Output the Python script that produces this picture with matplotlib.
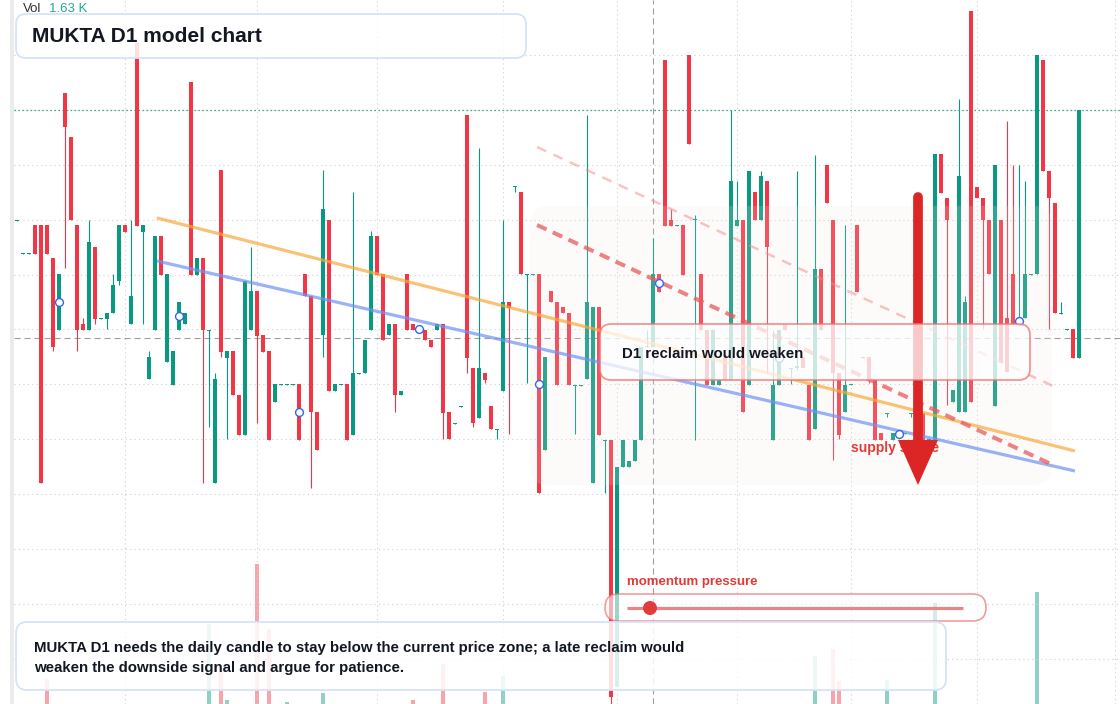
import matplotlib
matplotlib.use("Agg")
import matplotlib.pyplot as plt
import numpy as np
from matplotlib.patches import FancyBboxPatch, Rectangle, Polygon, Circle
from matplotlib.transforms import Affine2D

plt.rcParams['font.family'] = ['Liberation Sans', 'DejaVu Sans']

# ---------------- data (daily candles, price units) ----------------
opens = [57.9, 54.6, 54.6, 57.5, 57.5, 57.5, 54.2, 47.0, 70.7, 66.3,
         57.5, 47.6, 47.0, 55.3, 48.1, 48.1, 48.7, 51.9, 57.5, 47.6,
         75.7, 56.8, 42.1, 47.0, 56.4, 43.8, 41.5, 47.0, 47.6, 71.8,
         52.5, 54.2, 46.9, 31.7, 63.0, 44.2, 44.9, 40.5, 36.5, 47.0,
         50.9, 46.5, 44.9, 39.8, 41.5, 41.5, 41.5, 41.6, 52.6, 50.4,
         38.8, 46.5, 58.0, 40.9, 41.5, 41.6, 36.5, 42.6, 42.7, 47.0,
         56.4, 52.6, 46.5, 47.6, 40.5, 52.6, 47.6, 47.3, 47.0, 46.0,
         47.0, 47.6, 38.8, 37.6, 39.3, 68.5, 43.2, 38.2, 42.7, 39.4,
         37.0, 40.9, 49.8, 61.3, 60.8, 52.5, 52.5, 52.6, 35.0, 50.9,
         49.8, 49.3, 48.7, 41.4, 41.4, 42.1, 31.7, 49.3, 35.9, 36.0,
         11.3, 33.3, 33.3, 33.9, 36.0, 45.3, 45.3, 52.6, 74.0, 58.0,
         57.4, 57.5, 74.5, 58.0, 52.6, 47.0, 41.5, 41.5, 44.5, 42.0,
         57.4, 58.0, 41.5, 60.8, 58.0, 61.9, 36.0, 41.5, 47.6, 43.1,
         43.2, 44.3, 41.5, 37.1, 53.1, 63.5, 58.0, 42.7, 38.8, 41.5,
         57.5, 44.2, 44.3, 42.0, 36.7, 38.6, 36.0, 36.4, 36.6, 38.6,
         37.5, 38.7, 36.0, 36.0, 64.6, 60.2, 39.8, 38.8, 38.8, 78.9,
         61.3, 60.2, 58.0, 39.4, 58.0, 48.2, 52.6, 47.6, 48.2, 52.5,
         52.6, 74.0, 62.9, 59.7, 48.6, 47.0, 47.1, 44.2]
highs = [58.0, 54.7, 54.7, 57.5, 57.5, 57.5, 54.2, 52.6, 70.7, 66.3,
         57.5, 48.2, 58.0, 55.3, 48.2, 48.7, 52.6, 57.5, 57.5, 58.0,
         75.7, 57.5, 44.9, 56.4, 56.4, 52.6, 44.9, 49.8, 48.7, 71.8,
         54.2, 54.2, 47.0, 42.7, 63.0, 44.9, 44.9, 40.5, 51.9, 55.3,
         50.9, 46.5, 44.9, 41.6, 41.6, 41.6, 41.6, 41.6, 52.6, 50.4,
         38.8, 63.0, 58.0, 41.6, 41.6, 41.6, 60.8, 42.7, 46.0, 56.9,
         56.4, 52.6, 47.6, 47.6, 40.9, 52.6, 47.6, 47.3, 47.0, 46.0,
         47.6, 47.6, 38.8, 37.7, 39.4, 68.5, 43.2, 65.2, 42.7, 39.4,
         37.1, 58.0, 49.8, 61.4, 60.8, 52.6, 52.6, 52.6, 44.3, 50.9,
         49.8, 49.3, 48.7, 41.5, 41.5, 68.5, 49.3, 49.3, 36.0, 36.0,
         33.3, 36.0, 33.9, 36.0, 45.3, 47.0, 56.2, 52.6, 74.0, 59.1,
         57.5, 57.5, 74.5, 58.5, 52.6, 47.0, 47.0, 42.0, 44.5, 69.0,
         61.9, 58.0, 62.9, 60.8, 62.9, 61.9, 47.0, 47.0, 47.6, 43.2,
         62.9, 44.3, 41.5, 64.5, 53.1, 63.5, 58.0, 42.7, 57.5, 41.6,
         57.5, 44.3, 44.3, 42.0, 36.7, 38.7, 36.7, 36.8, 36.7, 38.7,
         37.5, 38.7, 36.1, 64.6, 64.6, 60.2, 41.0, 70.1, 50.4, 78.9,
         61.3, 60.2, 58.0, 63.5, 58.0, 67.9, 63.5, 63.5, 61.9, 52.6,
         74.5, 74.0, 62.9, 59.7, 49.8, 47.1, 47.1, 69.0]
lows = [57.9, 54.6, 54.6, 54.6, 31.7, 54.6, 44.9, 47.0, 53.2, 58.0,
        44.9, 47.0, 47.0, 47.6, 48.1, 47.1, 48.7, 51.5, 56.8, 47.6,
        57.4, 47.6, 42.1, 47.0, 52.5, 43.8, 41.5, 47.0, 47.6, 52.5,
        52.5, 31.7, 37.3, 31.7, 44.3, 36.1, 40.5, 36.5, 36.5, 47.0,
        37.7, 44.8, 36.0, 39.8, 41.5, 41.5, 41.5, 36.0, 50.4, 31.2,
        35.0, 44.3, 40.9, 40.9, 41.5, 36.0, 36.5, 42.6, 42.7, 47.0,
        52.5, 46.0, 46.5, 38.8, 40.5, 47.0, 47.0, 46.9, 46.0, 45.3,
        47.0, 36.1, 36.1, 37.6, 39.3, 42.7, 37.3, 38.2, 41.7, 37.1,
        36.1, 40.9, 36.6, 60.8, 52.6, 41.7, 52.5, 30.7, 35.0, 49.8,
        41.5, 48.7, 41.5, 36.6, 41.4, 42.1, 31.7, 36.5, 30.7, 9.6,
        11.3, 33.3, 33.3, 33.9, 36.0, 45.3, 45.3, 50.8, 57.4, 57.4,
        57.4, 52.5, 65.6, 36.0, 47.0, 41.5, 41.5, 41.5, 42.0, 42.0,
        57.4, 38.8, 41.5, 58.0, 58.0, 42.7, 36.0, 41.5, 47.0, 41.6,
        43.0, 43.2, 36.0, 37.1, 47.0, 59.7, 34.0, 36.1, 38.8, 41.5,
        50.8, 44.2, 41.7, 36.0, 36.0, 38.3, 36.0, 36.4, 36.6, 38.3,
        36.0, 36.0, 36.0, 36.0, 60.7, 39.5, 39.8, 38.8, 38.8, 39.8,
        60.2, 47.1, 52.6, 39.4, 43.7, 42.8, 47.6, 47.6, 48.2, 52.5,
        52.6, 62.9, 47.1, 48.7, 48.6, 47.0, 44.2, 44.2]
closes = [58.0, 54.7, 54.7, 54.6, 31.7, 54.6, 45.3, 52.6, 67.3, 58.0,
          47.0, 47.0, 55.8, 48.1, 48.2, 48.7, 51.5, 57.5, 56.8, 50.4,
          57.4, 57.5, 44.3, 56.4, 52.5, 52.6, 44.9, 49.8, 48.7, 52.5,
          54.2, 47.0, 47.0, 42.1, 44.8, 44.9, 40.5, 36.5, 51.9, 50.9,
          46.4, 44.8, 36.0, 41.6, 41.6, 41.6, 41.6, 36.0, 50.4, 38.8,
          35.0, 59.1, 40.9, 41.6, 41.6, 36.0, 42.7, 42.7, 46.0, 56.4,
          52.5, 46.0, 47.6, 40.5, 40.9, 47.0, 47.0, 46.9, 46.0, 45.3,
          47.6, 38.7, 36.1, 37.7, 39.4, 44.2, 37.7, 43.2, 42.0, 37.1,
          37.1, 49.8, 49.2, 61.4, 52.6, 52.6, 52.6, 30.7, 44.3, 49.8,
          41.5, 48.7, 41.5, 41.5, 41.5, 49.8, 49.3, 36.5, 36.0, 10.3,
          33.3, 36.0, 33.9, 36.0, 45.3, 45.4, 52.6, 50.8, 57.4, 57.4,
          57.5, 52.5, 65.6, 58.1, 47.0, 41.5, 47.0, 42.0, 42.0, 61.9,
          58.0, 38.8, 62.9, 58.0, 62.4, 55.3, 41.5, 47.0, 47.0, 43.2,
          43.4, 43.2, 36.0, 53.1, 47.0, 59.7, 42.7, 36.5, 41.5, 41.6,
          50.8, 44.3, 42.0, 36.0, 36.0, 38.7, 36.7, 36.8, 36.7, 38.7,
          36.0, 36.0, 36.1, 64.6, 60.7, 58.0, 41.0, 62.4, 49.8, 39.8,
          60.2, 58.0, 52.6, 63.5, 43.7, 42.8, 47.6, 48.2, 52.6, 52.6,
          74.5, 62.9, 60.2, 48.7, 48.7, 47.1, 44.2, 69.0]

# volume (thousands) for the bars that rise into view
vol_days = [5, 32, 34, 35, 40, 42, 45, 51, 66, 71, 78, 81, 133, 136, 137, 145, 153, 170, 177]
vol_k = [4.05, 6.8, 4.45, 3.0, 9.8, 6.55, 2.9, 3.35, 3.0, 4.8, 3.4, 4.2, 5.2, 5.55, 3.95, 4.0, 7.85, 8.4, 1.63]

# overlay lines: (start_day, start_price, end_day, end_price)
orange_line = [23.33, 58.2, 176.33, 34.9]
blue_line = [23.33, 53.9, 176.33, 32.9]
red_dash_main = [86.67, 57.5, 172.67, 33.5]
red_dash_upper = [86.67, 65.3, 172.67, 41.4]
cross_day, cross_price = 106, 46.2
month_days = [18, 40, 60, 81, 100, 120, 139, 160, 183]
marker_days = [7, 27, 47, 67, 87, 107, 127, 147, 167]

title = "MUKTA D1 model chart"
note = ("MUKTA D1 needs the daily candle to stay below the current price zone; a late reclaim would\n"
        "weaken the downside signal and argue for patience.")

# ---------------- figure ----------------
W, H = 1120, 704
fig = plt.figure(figsize=(W / 100, H / 100), dpi=100)
fig.patch.set_facecolor('white')
axv = fig.add_axes([0, 0, 1, 1], zorder=0)
ax = fig.add_axes([0, 0, 1, 1], zorder=1)
ax.patch.set_alpha(0)
for a in (ax, axv):
    a.set_axis_off()
XL = (-17 / 6, (W - 17) / 6)
ax.set_xlim(*XL)
ax.set_ylim(9.6, 80)
axv.set_xlim(*XL)
axv.set_ylim(2.8, 38)
X0 = -0.5  # left edge of the pane (just right of the scale strip)

PX = Affine2D().scale(1 / W, -1 / H).translate(0, 1) + fig.transFigure

RED, GREEN = '#f23645', '#089981'
o, h, l, c = map(np.array, (opens, highs, lows, closes))
idx = np.arange(len(o))
up = c >= o
cols = np.where(up, GREEN, RED)

# left scale strip
axv.add_patch(Rectangle((10, 0), 4, H, transform=PX, color='#ebebeb', lw=0, zorder=0))

# grid
ax.hlines(80 - 5.49 * np.arange(1, 13), X0, XL[1], color='#cfcfcf', lw=0.8,
          ls=(0, (1, 3)), zorder=0.5)
for d in month_days:
    ax.axvline(d, color='#cfcfcf', lw=0.8, ls=(0, (1, 3)), zorder=0.5)

# volume
vcols = [GREEN if up[d] else RED for d in vol_days]
axv.bar(vol_days, vol_k, width=0.8, bottom=0, color=vcols, alpha=0.45, lw=0, zorder=1)

# crosshair + last price line
ax.hlines(cross_price, X0, XL[1], color='#9a9ea6', lw=0.8, ls=(0, (5.5, 3.5)), zorder=1.5)
ax.axvline(cross_day, color='#9a9ea6', lw=0.8, ls=(0, (5.5, 3.5)), zorder=1.5)
ax.hlines(c[-1], X0, XL[1], color=GREEN, lw=0.9, ls=(0, (1, 2.2)), zorder=1.6)

# candles
ax.vlines(idx, l, h, colors=cols, lw=0.8, zorder=2)
body_lo = np.minimum(o, c)
body_h = np.maximum(np.abs(c - o), 0.1)
ax.bar(idx, body_h, bottom=body_lo, width=0.8, color=cols, lw=0, zorder=3)

# shaded zone
ax.add_patch(FancyBboxPatch((530, 206), 522, 279, boxstyle="round,pad=0,rounding_size=18",
                            transform=PX, fc='#f8ece2', ec='none', alpha=0.16, zorder=4))

# trend lines
ax.plot(orange_line[0::2], orange_line[1::2], color='#f7a93a', alpha=0.7, lw=2.3,
        solid_capstyle='butt', zorder=5)
ax.plot(blue_line[0::2], blue_line[1::2], color='#6f93f3', alpha=0.7, lw=2.3,
        solid_capstyle='butt', zorder=5)
ax.plot(red_dash_main[0::2], red_dash_main[1::2], color='#e85a5a', alpha=0.75, lw=2.9,
        ls=(0, (2.6, 1.7)), dash_capstyle='butt', zorder=5)
ax.plot(red_dash_upper[0::2], red_dash_upper[1::2], color='#f08a8a', alpha=0.5, lw=1.8,
        ls=(0, (4.0, 3.2)), dash_capstyle='butt', zorder=5)

# blue markers at body mid
mk_y = [(o[d] + c[d]) / 2 for d in marker_days]
ax.scatter(marker_days, mk_y, s=32, facecolor='white', edgecolor='#3366f0', lw=1.0, zorder=6)

# supply label + arrow
ax.text(851, 448, "supply space", transform=PX, fontsize=10, fontweight='bold',
        color='#e03a3a', va='center', ha='left', zorder=7)
ax.plot([918, 918], [197, 440], transform=PX, color='#dc2626', lw=7.0,
        solid_capstyle='round', zorder=8)
ax.add_patch(Polygon([(898, 440), (938, 440), (918, 485)], closed=True, transform=PX,
                     color='#dc2626', lw=0, zorder=8))

# D1 reclaim box
ax.add_patch(FancyBboxPatch((600, 324), 430, 56, boxstyle="round,pad=0,rounding_size=11",
                            transform=PX, fc=(1, 1, 1, 0.75), ec=(0.93, 0.45, 0.45, 0.75),
                            lw=1.3, zorder=9))
ax.text(622, 354, "D1 reclaim would weaken", transform=PX, fontsize=10.8, fontweight='bold',
        color='#131722', va='center', ha='left', zorder=10)

# momentum pressure
ax.text(627, 582, "momentum pressure", transform=PX, fontsize=9.5, fontweight='bold',
        color='#e53935', va='center', ha='left', zorder=10)
ax.add_patch(FancyBboxPatch((605, 594), 381, 27, boxstyle="round,pad=0,rounding_size=13.5",
                            transform=PX, fc=(1, 1, 1, 0.6), ec=(0.93, 0.45, 0.45, 0.7),
                            lw=1.2, zorder=9))
ax.plot([627, 963], [608, 608], transform=PX, color='#e98585', lw=2.3,
        solid_capstyle='butt', zorder=10)
ax.add_patch(Circle((650, 608), 7, transform=PX, color='#e23b3b', lw=0, zorder=11))

# bottom note box
ax.add_patch(FancyBboxPatch((16, 622), 930, 68, boxstyle="round,pad=0,rounding_size=11",
                            transform=PX, fc=(1, 1, 1, 0.85), ec='#d5e3fa', lw=1.3, zorder=9))
ax.text(34, 658, note, transform=PX, fontsize=10.8, fontweight='bold', color='#131722',
        va='center', ha='left', linespacing=1.55, zorder=10)

# title box
ax.add_patch(FancyBboxPatch((16, 14), 510, 44, boxstyle="round,pad=0,rounding_size=10",
                            transform=PX, fc=(1, 1, 1, 0.85), ec='#d5e3fa', lw=1.3, zorder=9))
ax.text(32, 36.5, title, transform=PX, fontsize=15, fontweight='bold', color='#131722',
        va='center', ha='left', zorder=10)

# volume legend
ax.text(23, 9, "Vol", transform=PX, fontsize=9.5, color='#333333', va='center', ha='left', zorder=10)
ax.text(49, 9, f"{vol_k[-1]:.2f} K", transform=PX, fontsize=9.5, color='#22ab94',
        va='center', ha='left', zorder=10)

fig.savefig("out.png", dpi=100, facecolor='white')
